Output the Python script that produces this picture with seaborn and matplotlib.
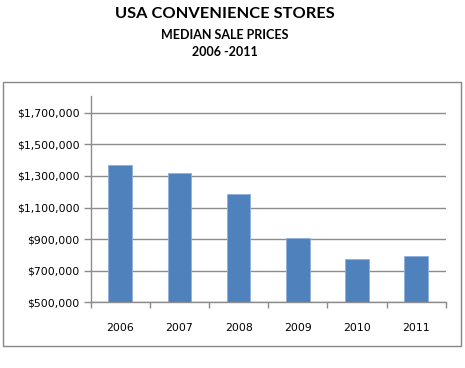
import matplotlib
matplotlib.use("Agg")
import matplotlib.pyplot as plt
import seaborn as sns
import pandas as pd
from matplotlib.patches import Rectangle
from matplotlib.ticker import FuncFormatter, FixedLocator

years = ["2006", "2007", "2008", "2009", "2010", "2011"]
prices = [1369000, 1320000, 1183000, 905000, 774000, 791000]
yticks = [500000, 700000, 900000, 1100000, 1300000, 1500000, 1700000]

df = pd.DataFrame({"year": years, "price": prices})

sns.set_theme(style="white")
plt.rcParams['font.family'] = ['DejaVu Sans']

W, H = 465, 368
fig = plt.figure(figsize=(W / 100, H / 100), dpi=100)
ax = fig.add_axes([90.7 / W, 1 - 302.3 / H, (445.7 - 90.7) / W, (302.3 - 96) / H])

sns.barplot(data=df, x="year", y="price", color="#4F81BD", width=0.4,
            saturation=1, ax=ax, edgecolor="#8FB0DA", linewidth=0.6)

ax.set_ylim(500000, 1806000)
ax.set_xlim(-0.5, 5.5)
ax.yaxis.set_major_locator(FixedLocator(yticks))
ax.yaxis.set_major_formatter(FuncFormatter(lambda v, p: "${:,.0f}".format(v)))
ax.grid(axis="y", color="#8c8c8c", linewidth=1.0)
ax.set_axisbelow(True)
for s in ["top", "right"]:
    ax.spines[s].set_visible(False)
for s in ["left", "bottom"]:
    ax.spines[s].set_color("#8c8c8c")
    ax.spines[s].set_linewidth(1.0)
ax.set_xlabel("")
ax.set_ylabel("")
ax.tick_params(axis="y", which="major", length=5, width=1, color="#8c8c8c",
               labelsize=7.8, labelcolor="#000000", pad=3, left=True)
ax.tick_params(axis="x", which="major", length=0, labelsize=7.8,
               labelcolor="#000000", pad=15)
ax.xaxis.set_minor_locator(FixedLocator([i - 0.5 for i in range(len(years) + 1)]))
ax.tick_params(axis="x", which="minor", length=4, width=1, color="#8c8c8c",
               bottom=True)

# outer chart box
fig.patches.append(Rectangle((3.3 / W, 1 - 345.7 / H), (461 - 3.3) / W, (345.7 - 82.3) / H,
                             transform=fig.transFigure, fill=False,
                             edgecolor="#868686", linewidth=1.0))

tfont = ['Lato', 'DejaVu Sans']
fig.text(225 / W, 1 - 14 / H, "USA CONVENIENCE STORES", ha="center", va="center",
         fontsize=11.8, fontweight="bold", family=tfont, color="#000000")
fig.text(225 / W, 1 - 35 / H, "MEDIAN SALE PRICES", ha="center", va="center",
         fontsize=9, fontweight="bold", family=tfont, color="#000000")
fig.text(225 / W, 1 - 52 / H, "2006 -2011", ha="center", va="center",
         fontsize=9, fontweight="bold", family=tfont, color="#000000")

fig.savefig("out.png", dpi=100, facecolor="white")
